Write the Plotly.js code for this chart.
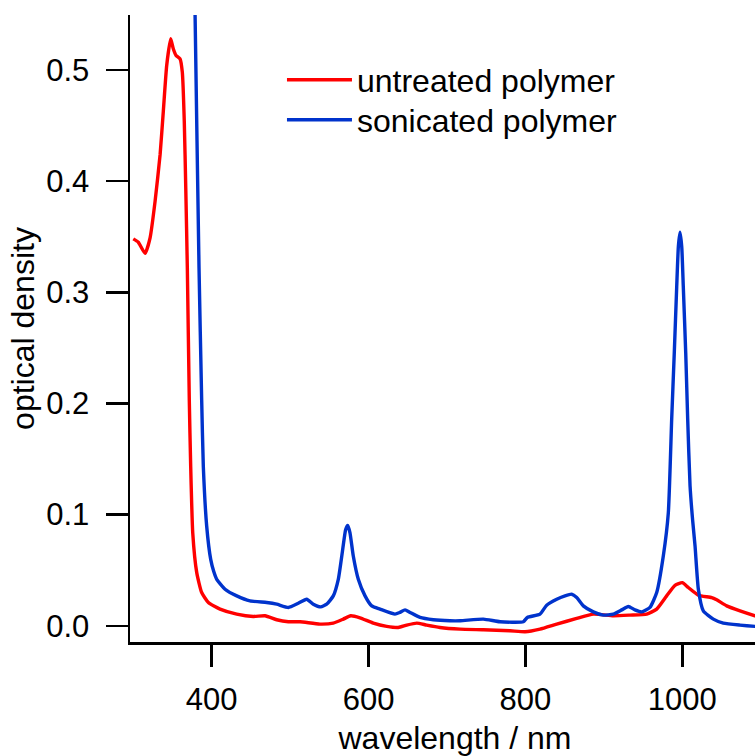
<!DOCTYPE html>
<html>
<head>
<meta charset="utf-8">
<script src="https://cdn.plot.ly/plotly-3.0.1.min.js"></script>
<style>html,body{margin:0;padding:0;background:#fff;overflow:hidden;width:755px;height:756px;}#chart{width:780px;height:756px;}</style>
</head>
<body>
<div id="chart"></div>
<script>
// untreated polymer (red)
const untreatedWavelength = [300, 306.4, 315, 321.4, 327.8, 334.2, 338.3, 342.6, 347.7, 351, 354.5, 359.6, 362.5, 365, 366.9, 368.9, 371.4, 373.2, 375.8, 380.9, 387.2, 395.7, 410.6, 431.9, 453, 468, 482.9, 497.7, 512.6, 538, 555, 567.8, 577.2, 589, 606, 623.1, 637.9, 648.6, 661.4, 674.1, 691, 716.6, 746.3, 780.3, 799.5, 818.6, 839.9, 865.4, 886.6, 912.1, 933.3, 954.6, 967.4, 980.1, 990.7, 1000, 1007.7, 1020.5, 1037.5, 1043.9, 1056.6, 1073.6, 1092.7, 1100];
const untreatedOD = [0.348, 0.345, 0.335, 0.349, 0.382, 0.424, 0.463, 0.504, 0.528, 0.519, 0.513, 0.510, 0.498, 0.454, 0.394, 0.322, 0.203, 0.143, 0.0836, 0.0478, 0.0299, 0.0209, 0.0150, 0.0105, 0.0084, 0.0090, 0.0054, 0.0036, 0.0036, 0.0015, 0.0024, 0.0060, 0.0090, 0.0072, 0.0024, -0.0005, -0.0015, 0.0006, 0.0024, 0.0006, -0.0015, -0.0030, -0.0036, -0.0045, -0.0054, -0.0030, 0.0015, 0.0066, 0.0105, 0.0090, 0.0096, 0.0105, 0.0150, 0.0269, 0.0364, 0.0388, 0.0344, 0.0275, 0.0254, 0.0233, 0.0179, 0.0134, 0.0090, 0.0075];

// sonicated polymer (blue)
const sonicatedWavelength = [375, 378.8, 383.8, 387.2, 389.3, 393.6, 398.7, 402.5, 406.4, 417, 431.9, 448.8, 470.1, 482.9, 497.7, 510.4, 521.1, 529.5, 539, 546.6, 555, 561.4, 567, 570.8, 573.4, 576.3, 580.5, 586.9, 595.5, 604, 614.6, 633.7, 640, 646.5, 652.9, 665.6, 682.6, 703.8, 717, 746.3, 767.6, 797.3, 802.4, 818.6, 827.1, 839.9, 850.5, 859, 865.4, 873.8, 886.6, 899.3, 912.1, 922.8, 931.2, 939.7, 948.3, 958.8, 967.4, 975.8, 982.2, 986.5, 989.8, 992.9, 995, 997.1, 999.3, 1001.3, 1004.4, 1006.9, 1009.9, 1013.2, 1016.3, 1020.5, 1026.8, 1039.6, 1052.3, 1073.6, 1092.7, 1100];
const sonicatedOD = [0.72, 0.549, 0.322, 0.203, 0.143, 0.0895, 0.0597, 0.0490, 0.0418, 0.0329, 0.0269, 0.0224, 0.0209, 0.0194, 0.0165, 0.0203, 0.0239, 0.0194, 0.0170, 0.0194, 0.0269, 0.0418, 0.0687, 0.0866, 0.0902, 0.0836, 0.0627, 0.0418, 0.0269, 0.0179, 0.0150, 0.0105, 0.0120, 0.0143, 0.0120, 0.0075, 0.0054, 0.0045, 0.0045, 0.0060, 0.0036, 0.0036, 0.0075, 0.0105, 0.0185, 0.0239, 0.0269, 0.0284, 0.0254, 0.0179, 0.0125, 0.0096, 0.0105, 0.0143, 0.0174, 0.0143, 0.0125, 0.0165, 0.0299, 0.0627, 0.1015, 0.186, 0.2455, 0.305, 0.341, 0.354, 0.341, 0.305, 0.2455, 0.186, 0.126, 0.095, 0.0716, 0.0329, 0.0134, 0.0060, 0.0024, 0.0006, -0.0005, -0.0008];

const seriesNames = ["untreated polymer", "sonicated polymer"];
const xTickVals = [400, 600, 800, 1000];
const yTickVals = [0.0, 0.1, 0.2, 0.3, 0.4, 0.5];

const FONT = "Liberation Sans, Arial, Helvetica, sans-serif";

const traces = [
  {x: untreatedWavelength, y: untreatedOD, name: seriesNames[0], type: "scatter", mode: "lines",
   legend: "legend", line: {color: "#ff0000", width: 3.4, shape: "spline", smoothing: 0.5}},
  {x: sonicatedWavelength, y: sonicatedOD, name: seriesNames[1], type: "scatter", mode: "lines",
   legend: "legend2", line: {color: "#0033cc", width: 3.4, shape: "spline", smoothing: 0.5}}
];

const legendCommon = {xanchor: "left", yanchor: "middle", bgcolor: "rgba(0,0,0,0)", borderwidth: 0,
  font: {family: FONT, size: 32, color: "#000"}, itemwidth: 65};

const layout = {
  width: 780, height: 756,
  margin: {l: 130, r: 0, t: 15, b: 114, pad: 0},
  paper_bgcolor: "#fff", plot_bgcolor: "#fff",
  font: {family: FONT, size: 31, color: "#000"},
  showlegend: true,
  legend: Object.assign({x: 0.2338, y: 0.8963}, legendCommon),
  legend2: Object.assign({x: 0.2338, y: 0.8325}, legendCommon),
  xaxis: {
    range: [295.8, 1124.6], tickvals: xTickVals, ticktext: xTickVals.map(String),
    showgrid: false, zeroline: false, showline: true, linecolor: "#000", linewidth: 2.5,
    ticks: "outside", ticklen: 22, tickwidth: 2.5, tickcolor: "#000", ticklabelstandoff: 6,
    tickfont: {family: FONT, size: 31, color: "#000"},
    title: {text: "wavelength / nm", font: {family: FONT, size: 32, color: "#000"}, standoff: 15}
  },
  yaxis: {
    range: [-0.0146, 0.5494], tickvals: yTickVals, ticktext: yTickVals.map(v => v.toFixed(1)),
    showgrid: false, zeroline: false, showline: true, linecolor: "#000", linewidth: 2.5,
    ticks: "outside", ticklen: 22, tickwidth: 2.5, tickcolor: "#000", ticklabelstandoff: 10,
    tickfont: {family: FONT, size: 31, color: "#000"},
    title: {text: "optical density", font: {family: FONT, size: 32, color: "#000"}, standoff: 2}
  }
};

Plotly.newPlot("chart", traces, layout, {displayModeBar: false, staticPlot: true});
</script>
</body>
</html>
